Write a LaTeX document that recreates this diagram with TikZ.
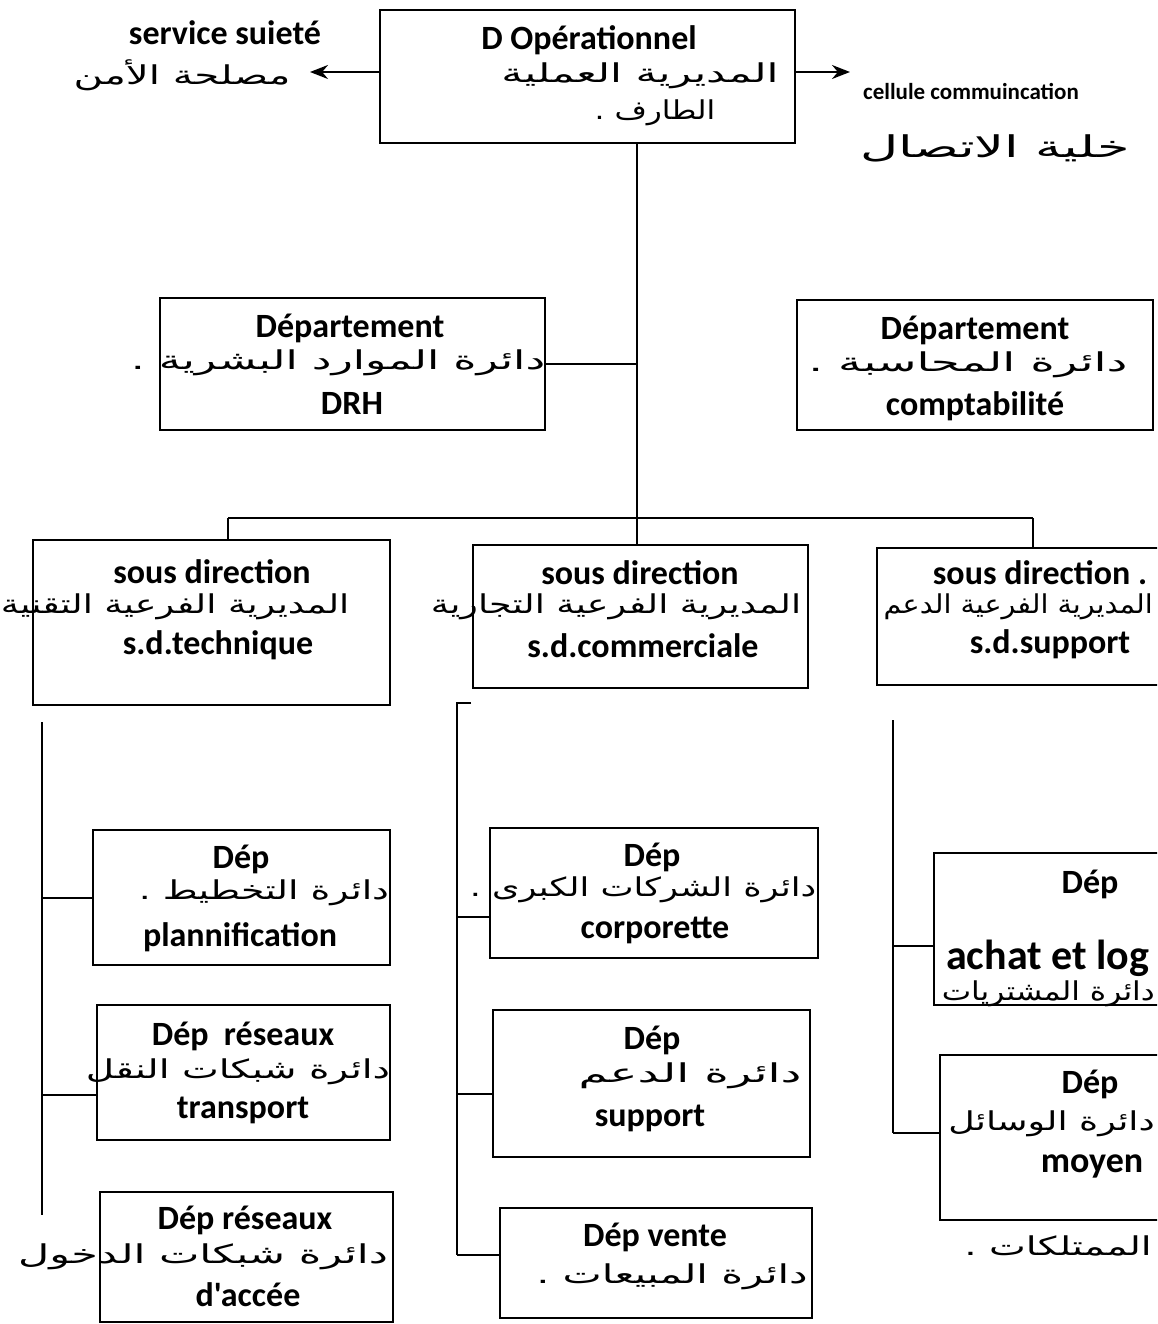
\documentclass[tikz,border=0pt]{standalone}
\usepackage{fontspec}
\setmainfont{Carlito}[Ligatures=TeXOff]
\newfontfamily\arabicfont[Script=Arabic]{DejaVu Sans}
\TeXXeTstate=1
\usetikzlibrary{arrows.meta}
\begin{document}
\begin{tikzpicture}[x=1pt,y=-1pt,
  box/.style={draw, line width=2.2pt, rectangle, inner sep=0pt},
  lat/.style={font=\fontsize{34}{38}\selectfont\bfseries, inner sep=0pt},
  latbig/.style={font=\fontsize{42}{46}\selectfont\bfseries, inner sep=0pt},
  latsmall/.style={font=\fontsize{23}{27}\selectfont\bfseries, inner sep=0pt},
  ar/.style={font=\arabicfont\addfontfeature{FakeStretch=#1}\fontsize{26}{30}\selectfont, inner sep=0pt},
  arbig/.style={font=\arabicfont\addfontfeature{FakeStretch=#1}\fontsize{30}{34}\selectfont, inner sep=0pt},
  conn/.style={line width=2pt},
  arr/.style={line width=2pt, -{Stealth[length=18pt,width=14pt]}}]
\clip (0,0) rectangle (1157,1324);
\fill[white] (0,0) rectangle (1157,1324);

% top box
\node[box, minimum width=415pt, minimum height=133pt] (top) at (587.5,76.5) {};
\node[lat] (topT) at (589,40) {D Opérationnel};
\node[ar=1.65] (topA1) at (640,76) {\beginR المديرية العملية\endR};
\node[ar=1.2] (topA2) at (655,113) {\beginR الطارف .\endR};

% side services
\node[lat] (servT) at (225,33) {service suieté};
\node[ar=1.55] (servA) at (182,75) {\beginR مصلحة الأمن\endR};
\coordinate (servEnd) at (310,72);
\draw[arr] (top.west |- servEnd) -- (servEnd);

\node[latsmall] (cellT) at (971,92) {cellule commuincation};
\node[arbig=1.75] (cellA) at (995,148) {\beginR خلية الاتصال\endR};
\coordinate (cellEnd) at (850,72);
\draw[arr] (top.east |- cellEnd) -- (cellEnd);

% departments level 1
\node[box, minimum width=385pt, minimum height=132pt] (drh) at (352.5,364) {};
\node[lat] (drhT) at (350,328) {Département};
\node[ar=1.7] (drhA) at (338,363) {\beginR دائرة الموارد البشرية .\endR};
\node[lat] (drhB) at (352,403) {DRH};

\node[box, minimum width=356pt, minimum height=130pt] (cpt) at (975,365) {};
\node[lat] (cptT) at (975,330) {Département};
\node[ar=1.8] (cptA) at (968,365) {\beginR دائرة المحاسبة .\endR};
\node[lat] (cptB) at (975,406) {comptabilité};

% sous directions
\node[box, minimum width=357pt, minimum height=165pt] (tech) at (211.5,622.5) {};
\node[lat] (techT) at (212,572) {sous direction};
\node[ar=1.4] (techA) at (175,607) {\beginR المديرية الفرعية التقنية\endR};
\node[lat] (techB) at (218,645) {s.d.technique};

\node[box, minimum width=335pt, minimum height=143pt] (comm) at (640.5,616.5) {};
\node[lat] (commT) at (640,573) {sous direction};
\node[ar=1.4] (commA) at (616,607) {\beginR المديرية الفرعية التجارية\endR};
\node[lat] (commB) at (643,646) {s.d.commerciale};

\node[box, minimum width=300pt, minimum height=137pt] (sup) at (1027,616.5) {};
\node[lat] (supT) at (1040,573) {sous direction .};
\node[ar=1.1, anchor=east] (supA) at (1153,607) {\beginR المديرية الفرعية الدعم\endR};
\node[lat] (supB) at (1050,644) {s.d.support};

% trunk and bus
\coordinate (tk) at (637,518);
\coordinate (bl) at (228,518);
\coordinate (br) at (1033,518);
\draw[conn] (top.south -| tk) -- (tk);
\draw[conn] (drh.east) -- (drh.east -| tk);
\draw[conn] (bl) -- (br);
\draw[conn] (bl) -- (bl |- tech.north);
\draw[conn] (tk) -- (tk |- comm.north);
\draw[conn] (br) -- (br |- sup.north);

% left column
\node[box, minimum width=297pt, minimum height=135pt] (plan) at (241.5,897.5) {};
\node[lat] (planT) at (241,859) {Dép};
\node[ar=1.45] (planA) at (264,893) {\beginR دائرة التخطيط .\endR};
\node[lat] (planB) at (240,937) {plannification};

\node[box, minimum width=293pt, minimum height=135pt] (trans) at (243.5,1072.5) {};
\node[lat] (transT) at (243,1036) {Dép\ \ réseaux};
\node[ar=1.5] (transA) at (238,1072) {\beginR دائرة شبكات النقل\endR};
\node[lat] (transB) at (243,1110) {transport};

\node[box, minimum width=293pt, minimum height=130pt] (acc) at (246.5,1257) {};
\node[lat] (accT) at (245,1220) {Dép réseaux};
\node[ar=1.65] (accA) at (203,1257) {\beginR دائرة شبكات الدخول\endR};
\node[lat] (accB) at (248,1295) {d'accée};

\coordinate (lc1) at (42,722);
\coordinate (lc2) at (42,1215);
\coordinate (lcT) at (42,1095);
\draw[conn] (lc1) -- (lc2);
\draw[conn] (plan.west -| lc1) -- (plan.west);
\draw[conn] (lcT) -- (lcT -| trans.west);

% middle column
\node[box, minimum width=328pt, minimum height=130pt] (corp) at (654,893) {};
\node[lat] (corpT) at (652,857) {Dép};
\node[ar=1.35] (corpA) at (643,890) {\beginR دائرة الشركات الكبرى .\endR};
\node[lat] (corpB) at (655,930) {corporette};

\node[box, minimum width=317pt, minimum height=147pt] (sdep) at (651.5,1083.5) {};
\node[lat] (sdepT) at (652,1040) {Dép};
\node[ar=1.8] (sdepA) at (690,1076) {\beginR دائرة الدعم\endR};
\node[lat] (sdepB) at (650,1118) {support};

\node[box, minimum width=312pt, minimum height=110pt] (vente) at (656,1263) {};
\node[lat] (venteT) at (655,1237) {Dép vente};
\node[ar=1.6] (venteA) at (672,1277) {\beginR دائرة المبيعات .\endR};

\coordinate (mc1) at (457,703);
\coordinate (mc0) at (471,703);
\coordinate (mcC) at (457,917);
\coordinate (mcS) at (457,1094);
\coordinate (mcV) at (457,1255);
\draw[conn] (mc0) -- (mc1) -- (mcV);
\draw[conn] (mcC) -- (mcC -| corp.west);
\draw[conn] (mcS) -- (mcS -| sdep.west);
\draw[conn] (mcV) -- (mcV -| vente.west);

% right column
\node[box, minimum width=240pt, minimum height=152pt] (ach) at (1054,929) {};
\node[lat] (achT) at (1090,884) {Dép};
\node[latbig, anchor=west] (achB) at (946,958) {achat et log};
\node[ar=1.2, anchor=east] (achA) at (1155,994) {\beginR دائرة المشتريات\endR};

\node[box, minimum width=240pt, minimum height=165pt] (moy) at (1060,1137.5) {};
\node[lat] (moyT) at (1090,1084) {Dép};
\node[ar=1.4, anchor=east] (moyA) at (1155,1124) {\beginR دائرة الوسائل\endR};
\node[lat, font=\fontsize{36}{40}\selectfont\bfseries] (moyB) at (1092,1166) {moyen};
\node[ar=1.5, anchor=east] (moyC) at (1152,1246) {\beginR الممتلكات .\endR};

\coordinate (rc1) at (893,720);
\coordinate (rcA) at (893,946);
\coordinate (rcM) at (893,1133);
\draw[conn] (rc1) -- (rcM);
\draw[conn] (rcA) -- (rcA -| ach.west);
\draw[conn] (rcM) -- (rcM -| moy.west);
\end{tikzpicture}
\end{document}
